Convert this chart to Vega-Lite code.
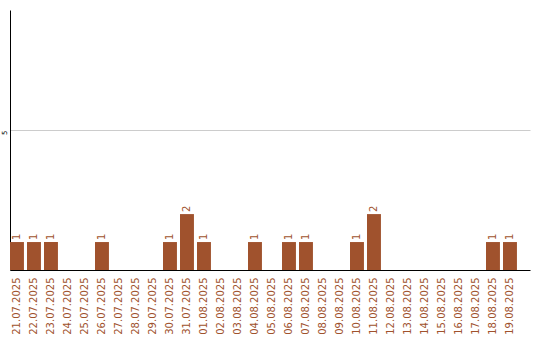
{
  "$schema": "https://vega.github.io/schema/vega-lite/v6.json",
  "width": 520,
  "height": 260,
  "autosize": {"type": "none"},
  "padding": {"left": 10, "top": 10, "right": 10, "bottom": 70},
  "background": "white",
  "config": {
    "view": {"stroke": null},
    "font": "DejaVu Sans"
  },
  "data": {
    "values": [
      {"day": "21.07.2025", "n": 1},
      {"day": "22.07.2025", "n": 1},
      {"day": "23.07.2025", "n": 1},
      {"day": "24.07.2025", "n": 0},
      {"day": "25.07.2025", "n": 0},
      {"day": "26.07.2025", "n": 1},
      {"day": "27.07.2025", "n": 0},
      {"day": "28.07.2025", "n": 0},
      {"day": "29.07.2025", "n": 0},
      {"day": "30.07.2025", "n": 1},
      {"day": "31.07.2025", "n": 2},
      {"day": "01.08.2025", "n": 1},
      {"day": "02.08.2025", "n": 0},
      {"day": "03.08.2025", "n": 0},
      {"day": "04.08.2025", "n": 1},
      {"day": "05.08.2025", "n": 0},
      {"day": "06.08.2025", "n": 1},
      {"day": "07.08.2025", "n": 1},
      {"day": "08.08.2025", "n": 0},
      {"day": "09.08.2025", "n": 0},
      {"day": "10.08.2025", "n": 1},
      {"day": "11.08.2025", "n": 2},
      {"day": "12.08.2025", "n": 0},
      {"day": "13.08.2025", "n": 0},
      {"day": "14.08.2025", "n": 0},
      {"day": "15.08.2025", "n": 0},
      {"day": "16.08.2025", "n": 0},
      {"day": "17.08.2025", "n": 0},
      {"day": "18.08.2025", "n": 1},
      {"day": "19.08.2025", "n": 1}
    ]
  },
  "encoding": {
    "x": {
      "field": "day",
      "type": "ordinal",
      "sort": null,
      "scale": {"paddingInner": 0.18, "paddingOuter": 0.384, "align": 0},
      "axis": {
        "title": null,
        "ticks": false,
        "domainColor": "black",
        "domainWidth": 1,
        "labelAngle": -90,
        "labelAlign": "right",
        "labelBaseline": "middle",
        "labelPadding": 7,
        "labelFont": "DejaVu Sans",
        "labelFontSize": 10,
        "labelColor": "#A0522D",
        "labelOverlap": false
      }
    },
    "y": {
      "field": "n",
      "type": "quantitative",
      "scale": {"domain": [0, 9.3], "nice": false},
      "axis": {
        "title": null,
        "values": [5],
        "grid": true,
        "gridColor": "#cccccc",
        "gridWidth": 1,
        "ticks": false,
        "domainColor": "black",
        "domainWidth": 1,
        "labelAngle": -90,
        "labelFontSize": 7,
        "labelColor": "black",
        "labelPadding": 3,
        "labelOffset": 2
      }
    }
  },
  "layer": [
    {
      "mark": {"type": "bar", "color": "#A0522D"}
    },
    {
      "transform": [{"filter": "datum.n > 0"}],
      "mark": {
        "type": "text",
        "angle": 270,
        "align": "left",
        "baseline": "middle",
        "yOffset": -2,
        "font": "DejaVu Sans",
        "fontSize": 10,
        "color": "#A0522D"
      },
      "encoding": {
        "text": {"field": "n", "type": "quantitative"}
      }
    }
  ]
}
